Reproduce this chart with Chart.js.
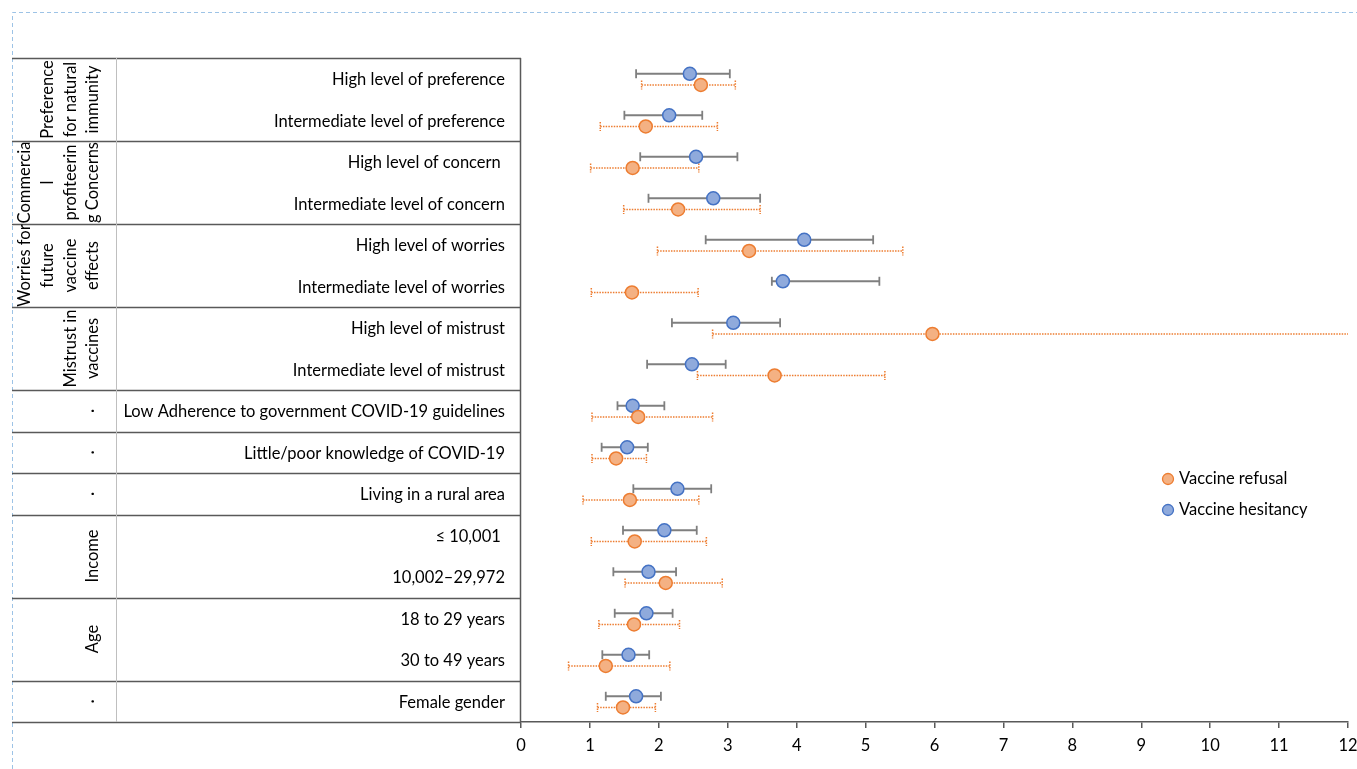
<!DOCTYPE html>
<html>
<head>
<meta charset="utf-8">
<script src="https://cdn.jsdelivr.net/npm/chart.js@4/dist/chart.umd.min.js"></script>
<style>
  html, body { margin: 0; padding: 0; background: #fff; }
  #wrap { width: 1357px; height: 769px; position: relative; }
</style>
</head>
<body>
<div id="wrap"><canvas id="c" width="1357" height="769"></canvas></div>
<script>
// ---------- DATA ----------
const rowLabels = [
  "High level of preference",
  "Intermediate level of preference",
  "High level of concern ",
  "Intermediate level of concern",
  "High level of worries",
  "Intermediate level of worries",
  "High level of mistrust",
  "Intermediate level of mistrust",
  "Low Adherence to government COVID-19 guidelines",
  "Little/poor knowledge of COVID-19",
  "Living in a rural area",
  "\u2264 10,001 ",
  "10,002\u201329,972",
  "18 to 29 years",
  "30 to 49 years",
  "Female gender"
];
const groupLabels = [
  ["Preference", "for natural", "immunity"],
  ["Commercia", "l", "profiteerin", "g Concerns"],
  ["Worries for", "future", "vaccine", "effects"],
  ["Mistrust in", "vaccines"],
  ["\u00b7"],
  ["\u00b7"],
  ["\u00b7"],
  ["Income"],
  ["Age"],
  ["\u00b7"]
];
const groupRowCounts = [2, 2, 2, 2, 1, 1, 1, 2, 2, 1];

const seriesNames = ["Vaccine refusal", "Vaccine hesitancy"];

const refusalOR   = [2.61, 1.81, 1.62, 2.28, 3.31, 1.61, 5.97, 3.68, 1.70, 1.38, 1.58, 1.65, 2.10, 1.64, 1.23, 1.48];
const refusalLow  = [1.75, 1.15, 1.01, 1.49, 1.98, 1.02, 2.78, 2.56, 1.03, 1.03, 0.90, 1.02, 1.51, 1.13, 0.69, 1.11];
const refusalHigh = [3.11, 2.85, 2.58, 3.47, 5.54, 2.57, 12.5, 5.28, 2.78, 1.82, 2.58, 2.69, 2.92, 2.30, 2.16, 1.95];

const hesitancyOR   = [2.45, 2.15, 2.54, 2.79, 4.11, 3.80, 3.08, 2.48, 1.62, 1.54, 2.27, 2.08, 1.85, 1.82, 1.56, 1.67];
const hesitancyLow  = [1.67, 1.50, 1.73, 1.85, 2.68, 3.64, 2.19, 1.83, 1.40, 1.17, 1.63, 1.48, 1.34, 1.36, 1.18, 1.23];
const hesitancyHigh = [3.03, 2.63, 3.14, 3.47, 5.11, 5.20, 3.76, 2.97, 2.08, 1.84, 2.76, 2.55, 2.25, 2.20, 1.86, 2.03];

const xTicks = [0, 1, 2, 3, 4, 5, 6, 7, 8, 9, 10, 11, 12];

// ---------- STYLE ----------
const FONT = "Lato, 'Open Sans', sans-serif";
const FS = 16.5;
const ORANGE_FILL = "#F4B183", ORANGE_LINE = "#ED7D31";
const BLUE_FILL = "#8FAADC", BLUE_LINE = "#4472C4";
const GRAY_BAR = "#7F7F7F";
const ROW_OFF = { refusal: 0.15, hesitancy: -0.12 };

function pts(vals, off) { return vals.map((v, i) => ({ x: v, y: i + off })); }

const datasets = [
  {
    label: seriesNames[0],
    data: pts(refusalOR, ROW_OFF.refusal),
    low: refusalLow, high: refusalHigh,
    barColor: ORANGE_LINE, dotted: true,
    backgroundColor: ORANGE_FILL, borderColor: ORANGE_LINE,
    pointRadius: 6.5, pointBorderWidth: 1.5, pointHoverRadius: 6.5
  },
  {
    label: seriesNames[1],
    data: pts(hesitancyOR, ROW_OFF.hesitancy),
    low: hesitancyLow, high: hesitancyHigh,
    barColor: GRAY_BAR, dotted: false,
    backgroundColor: BLUE_FILL, borderColor: BLUE_LINE,
    pointRadius: 6.5, pointBorderWidth: 1.5, pointHoverRadius: 6.5
  }
];

const forestPlugin = {
  id: "forest",
  beforeDraw(chart) {
    const ctx = chart.ctx;
    ctx.save();
    ctx.fillStyle = "#fff";
    ctx.fillRect(0, 0, chart.width, chart.height);
    ctx.strokeStyle = "#9DC3E6";
    ctx.lineWidth = 1;
    ctx.setLineDash([4, 3]);
    ctx.beginPath();
    ctx.moveTo(12.5, chart.height); ctx.lineTo(12.5, 12.5); ctx.lineTo(chart.width, 12.5);
    ctx.stroke();
    ctx.restore();
  },
  beforeDatasetsDraw(chart) {
    const ctx = chart.ctx, xs = chart.scales.x, ys = chart.scales.y, ca = chart.chartArea;
    ctx.save();
    ctx.beginPath();
    ctx.rect(ca.left, ca.top - 10, ca.right - ca.left + 1, ca.bottom - ca.top + 20);
    ctx.clip();
    chart.data.datasets.forEach(ds => {
      ctx.strokeStyle = ds.barColor;
      ctx.lineWidth = ds.dotted ? 1.5 : 1.8;
      ctx.setLineDash(ds.dotted ? [1.5, 1.2] : []);
      ds.data.forEach((p, i) => {
        const y = ys.getPixelForValue(p.y);
        const x1 = xs.getPixelForValue(ds.low[i]);
        const x2 = xs.getPixelForValue(ds.high[i]);
        ctx.beginPath();
        ctx.moveTo(x1, y); ctx.lineTo(Math.min(x2, ca.right), y);
        ctx.stroke();
        [x1, x2].forEach(xc => {
          if (xc > ca.right + 0.5) return;
          ctx.beginPath();
          ctx.moveTo(xc, y - 4.5); ctx.lineTo(xc, y + 4.5);
          ctx.stroke();
        });
      });
    });
    ctx.restore();
  },
  afterDraw(chart) {
    const ctx = chart.ctx, ys = chart.scales.y, ca = chart.chartArea;
    ctx.save();
    const tableLeft = 12, sepX = 116;
    ctx.strokeStyle = "#595959";
    ctx.lineWidth = 1.5;
    let r = 0;
    const bounds = [r];
    groupRowCounts.forEach(n => { r += n; bounds.push(r); });
    bounds.forEach(b => {
      const y = Math.round(ys.getPixelForValue(b - 0.5)) + 0.5;
      ctx.beginPath(); ctx.moveTo(tableLeft, y); ctx.lineTo(ca.left, y); ctx.stroke();
    });
    ctx.beginPath(); ctx.moveTo(ca.left - 0.5, ys.getPixelForValue(-0.5)); ctx.lineTo(ca.left - 0.5, ys.getPixelForValue(15.5)); ctx.stroke();
    ctx.strokeStyle = "#BFBFBF"; ctx.lineWidth = 1;
    ctx.beginPath(); ctx.moveTo(sepX + 0.5, ys.getPixelForValue(-0.5)); ctx.lineTo(sepX + 0.5, ys.getPixelForValue(15.5)); ctx.stroke();

    ctx.fillStyle = "#000";
    ctx.font = FS + "px " + FONT;
    ctx.textAlign = "right";
    ctx.textBaseline = "middle";
    rowLabels.forEach((t, i) => {
      ctx.fillText(t, ca.left - 16, ys.getPixelForValue(i) + 1);
    });

    r = 0;
    groupLabels.forEach((lines, g) => {
      const n = groupRowCounts[g];
      const yc = ys.getPixelForValue(r + (n - 1) / 2);
      r += n;
      lines.forEach((ln, k) => {
        const x = 93 - (lines.length - 1 - k) * 22.7;
        ctx.save();
        ctx.translate(x, yc);
        ctx.rotate(-Math.PI / 2);
        ctx.textAlign = "center";
        ctx.textBaseline = "middle";
        ctx.fillText(ln, 0, 0);
        ctx.restore();
      });
    });

    const lx = 1168, ly = [479, 510];
    chart.data.datasets.forEach((ds, i) => {
      ctx.beginPath();
      ctx.arc(lx, ly[i], 5.5, 0, Math.PI * 2);
      ctx.fillStyle = ds.backgroundColor; ctx.fill();
      ctx.strokeStyle = ds.borderColor; ctx.lineWidth = 1.3; ctx.stroke();
      ctx.fillStyle = "#000";
      ctx.textAlign = "left";
      ctx.textBaseline = "middle";
      ctx.fillText(ds.label, lx + 11, ly[i]);
    });
    ctx.restore();
  }
};

new Chart(document.getElementById("c"), {
  type: "scatter",
  data: { datasets },
  options: {
    responsive: false,
    animation: false,
    events: [],
    layout: { padding: { left: 521, right: 0, top: 58, bottom: 0 } },
    plugins: { legend: { display: false }, tooltip: { enabled: false } },
    scales: {
      x: {
        type: "linear", min: 0, max: 12,
        afterBuildTicks: s => { s.ticks = xTicks.map(v => ({ value: v })); },
        afterFit: s => { s.height = 47; s.paddingRight = 9; },
        grid: { display: true, drawOnChartArea: false, drawTicks: true, tickLength: 6, color: "#595959", lineWidth: 1.5 },
        border: { display: true, color: "#595959", width: 1.5 },
        ticks: { color: "#000", font: { family: FONT, size: FS }, padding: 8 }
      },
      y: {
        type: "linear", min: -0.5, max: 15.5, reverse: true, display: false
      }
    }
  },
  plugins: [forestPlugin]
});
</script>
</body>
</html>
